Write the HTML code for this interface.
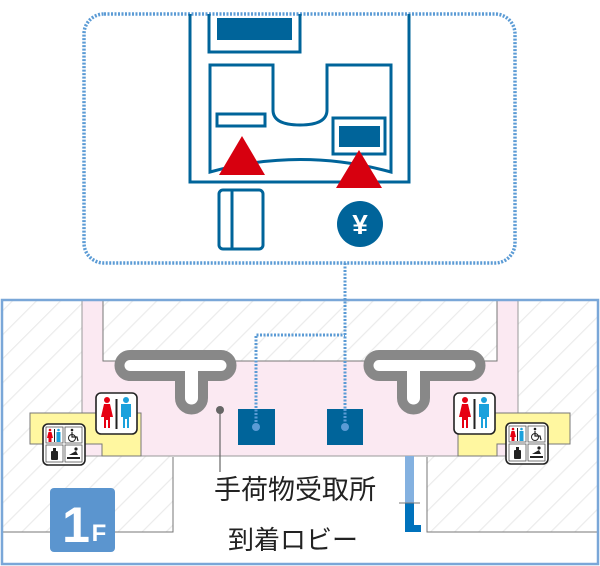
<!DOCTYPE html>
<html><head><meta charset="utf-8"><style>
html,body{margin:0;padding:0;background:#fff;width:600px;height:566px;overflow:hidden}
svg{display:block}
text{font-family:"Liberation Sans","Noto Sans CJK JP",sans-serif}
</style></head><body>
<svg width="600" height="566" viewBox="0 0 600 566" xmlns="http://www.w3.org/2000/svg">
<defs>
<pattern id="h" width="17" height="17" patternUnits="userSpaceOnUse" patternTransform="rotate(45)">
<rect width="17" height="17" fill="#fff"/><rect x="0" y="0" width="1.2" height="17" fill="#ebebeb"/>
</pattern>
<g id="big">
<rect x="0" y="0" width="41" height="41" rx="5" fill="#fff" stroke="#222" stroke-width="1.6"/>
<circle cx="11" cy="7" r="3" fill="#e60012"/>
<path d="M8,11 H14 L17,24 H14 V35 H12 V27 H10 V35 H8 V24 H5 Z" fill="#e60012"/>
<rect x="19.5" y="6" width="2" height="30" fill="#222"/>
<circle cx="30" cy="7" r="3" fill="#1ba1dc"/>
<path d="M25,11 H35 V24 H33 V35 H31 V26 H29 V35 H27 V24 H25 Z" fill="#1ba1dc"/>
</g>
<g id="small">
<rect x="0" y="0" width="42" height="41" rx="5" fill="#fff" stroke="#222" stroke-width="1.6"/>
<rect x="3" y="3" width="17" height="16" fill="#fff" stroke="#555" stroke-width="0.8"/>
<rect x="22" y="3" width="17" height="16" fill="#fff" stroke="#555" stroke-width="0.8"/>
<rect x="3" y="21" width="17" height="17" fill="#fff" stroke="#555" stroke-width="0.8"/>
<rect x="22" y="21" width="17" height="17" fill="#fff" stroke="#555" stroke-width="0.8"/>
<circle cx="7" cy="6" r="1.3" fill="#e60012"/><path d="M5.5,8 H8.5 L10,14 H8.5 V18 H5.5 V14 H4 Z" fill="#e60012"/>
<rect x="11" y="5" width="1" height="13" fill="#222"/>
<circle cx="15.5" cy="6" r="1.3" fill="#1ba1dc"/><rect x="13.5" y="8" width="4" height="10" fill="#1ba1dc"/>
<circle cx="29" cy="6" r="1.3" fill="#222"/><path d="M29,8 V13 H34 L35,17" stroke="#222" stroke-width="1.2" fill="none"/><circle cx="29" cy="14" r="3.5" stroke="#222" stroke-width="1" fill="none"/>
<rect x="8" y="27" width="7" height="9" rx="1" fill="#222"/><rect x="10" y="24" width="3" height="3" fill="#222"/>
<path d="M24,35 H37 V33 H24 Z M26,31 L33,27 L35,31 Z" fill="#222"/><circle cx="33" cy="25" r="1.6" fill="#222"/>
</g>
</defs>

<!-- top dotted frame -->
<rect x="84" y="14" width="431" height="249" rx="20" fill="none" stroke="#5b9bd5" stroke-width="3.5" stroke-dasharray="2 1.5"/>
<!-- machine -->
<g stroke="#00649a" stroke-width="3" fill="none">
<path d="M190,14 V182 H409 V14"/>
<path d="M209,14 V52 H300 V14"/>
<path d="M210,172 V65 H273 V110 Q273,125 300,125 Q327,125 327,110 V65 H391 V172 Q300,147 210,172 Z"/>
<rect x="217" y="114" width="48" height="12"/>
<rect x="333" y="118" width="52" height="36"/>
<rect x="219" y="190" width="44" height="59" rx="4"/>
<line x1="232" y1="190" x2="232" y2="249"/>
</g>
<rect x="217" y="18" width="75" height="22" fill="#00649a"/>
<rect x="339" y="126" width="41" height="21" fill="#00649a"/>
<polygon points="242,136 265,175 219,175" fill="#d7000f"/>
<polygon points="359,150 382,188 336,188" fill="#d7000f"/>
<circle cx="360" cy="224" r="23" fill="#00649a"/>
<text x="360" y="234" text-anchor="middle" font-size="28" font-weight="bold" fill="#fff">¥</text>

<!-- bottom map -->
<path d="M2,300 H598 V532 H427 V456 H173 V532 H2 Z" fill="url(#h)"/>
<path d="M82,300 H103 V361 H497 V300 H518 V456 H82 Z" fill="#fbe9f2" stroke="#999" stroke-width="1"/>
<path d="M103,300 V361 H497 V300" fill="none" stroke="#777" stroke-width="1"/>
<path d="M2,532 H173 V457" fill="none" stroke="#777" stroke-width="1"/>
<path d="M598,532 H427 V457" fill="none" stroke="#777" stroke-width="1"/>
<path d="M30,413 H141 V456 H102 V444 H30 Z" fill="#fff7a0" stroke="#777" stroke-width="1"/>
<path d="M458,413 H570 V444 H497 V456 H458 Z" fill="#fff7a0" stroke="#777" stroke-width="1"/>
<rect x="2" y="300" width="596" height="264" fill="none" stroke="#7aa7d8" stroke-width="2.5"/>

<!-- carousels -->
<path d="M130,355 H221 A10.5,10.5 0 0 1 221,376 H203 V398 A11.5,11.5 0 0 1 180,398 V376 H130 A10.5,10.5 0 0 1 130,355 Z" fill="#fff" stroke="#888" stroke-width="10"/>
<path d="M379,355 H470 A10.5,10.5 0 0 1 470,376 H425 V398 A11.5,11.5 0 0 1 402,398 V376 H379 A10.5,10.5 0 0 1 379,355 Z" fill="#fff" stroke="#888" stroke-width="10"/>

<!-- dotted connectors -->
<path d="M345,263 V422" stroke="#5b9bd5" stroke-width="3" stroke-dasharray="2 1.5" fill="none"/>
<rect x="238" y="409" width="37" height="36" fill="#00649a"/>
<rect x="327" y="409" width="36" height="36" fill="#00649a"/>
<path d="M256,422 V335 H345" stroke="#5b9bd5" stroke-width="3" stroke-dasharray="2 1.5" fill="none"/>
<path d="M345,409 V422" stroke="#5b9bd5" stroke-width="3" stroke-dasharray="2 1.5" fill="none"/>
<circle cx="256" cy="427" r="4" fill="#5b9bd5"/>
<circle cx="345" cy="427" r="4" fill="#5b9bd5"/>

<!-- label pointer -->
<circle cx="220" cy="410" r="4" fill="#666"/>
<line x1="220" y1="410" x2="220" y2="472" stroke="#666" stroke-width="1.2"/>
<text x="295" y="499" text-anchor="middle" font-size="27" fill="#222">手荷物受取所</text>
<text x="293" y="549" text-anchor="middle" font-size="26" fill="#222">到着ロビー</text>

<!-- blue bar -->
<rect x="405" y="456" width="9" height="47" fill="#84b1e0"/>
<path d="M405,503 H414 V525 H421 V532 H405 Z" fill="#0072bc"/>
<line x1="399" y1="503" x2="420" y2="503" stroke="#777" stroke-width="1"/>

<!-- toilet icons -->
<use href="#big" x="96" y="393"/>
<use href="#small" x="43" y="424"/>
<use href="#big" x="454" y="393"/>
<use href="#small" x="506" y="423"/>

<!-- 1F badge -->
<rect x="50" y="488" width="65" height="64" rx="4" fill="#5b95cf"/>
<text x="76" y="542" text-anchor="middle" font-size="50" font-weight="bold" fill="#fff">1</text>
<text x="99" y="541" text-anchor="middle" font-size="24" font-weight="bold" fill="#fff">F</text>
</svg>
</body></html>
